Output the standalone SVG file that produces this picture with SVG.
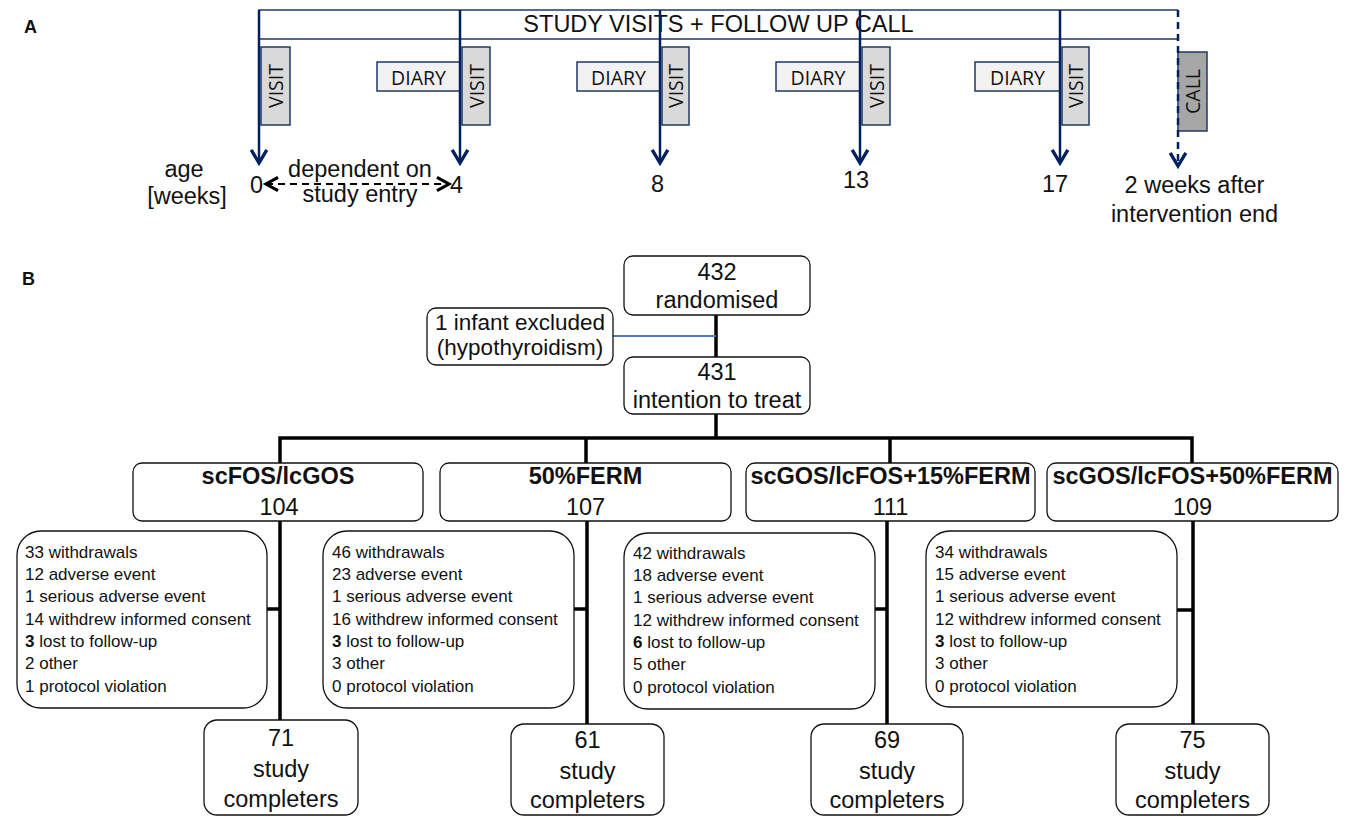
<svg xmlns="http://www.w3.org/2000/svg" width="1346" height="817" viewBox="0 0 1346 817">
<style>
.lbl{font-family:"Liberation Sans",Arial,sans-serif;fill:#111}
.pl{font-size:18px;font-weight:bold}
.t23{font-size:23.5px}
.t22{font-size:22.5px}
.b23{font-size:23.5px;font-weight:bold}
.t17{font-size:17px}
.mid{text-anchor:middle}
.cal{font-family:"Open Sans","Liberation Sans",sans-serif;font-size:19.5px;fill:#111;text-anchor:middle}
.visit{fill:#d9d9d9;stroke:#1f3864;stroke-width:1.5}
.diary{fill:#f2f2f2;stroke:#1f3864;stroke-width:1.5}
.call{fill:#a6a6a6;stroke:#1f3864;stroke-width:1.5}
.hdr{fill:none;stroke:#1f3864;stroke-width:1.5}
.box{fill:#fff;stroke:#111;stroke-width:1.3}
.tl{stroke:#002060;stroke-width:2.5;fill:none}
.tld{stroke:#002060;stroke-width:2.5;fill:none;stroke-dasharray:7 5}
.age{stroke:#000;stroke-width:2;fill:none;stroke-dasharray:7 5}
.fl{stroke:#000;stroke-width:3.5;fill:none}
.ex{stroke:#4a7ebb;stroke-width:2;fill:none}
</style>
<defs>
<marker id="chev" markerUnits="userSpaceOnUse" markerWidth="24" markerHeight="24" viewBox="-14 -10 20 20" refX="0" refY="0" orient="auto">
<path d="M-11,-6.5 L0,0 L-11,6.5" fill="none" stroke="#002060" stroke-width="2.8"/>
</marker>
<marker id="chevk" markerUnits="userSpaceOnUse" markerWidth="24" markerHeight="24" viewBox="-14 -10 20 20" refX="0" refY="0" orient="auto-start-reverse">
<path d="M-10,-5.5 L0,0 L-10,5.5" fill="none" stroke="#000" stroke-width="2.6"/>
</marker>
</defs>

<!-- Panel labels -->
<text class="lbl pl" x="24" y="33">A</text>
<text class="lbl pl" x="22" y="285">B</text>

<!-- Panel A -->
<g id="header">
<path class="hdr" d="M1178,10 H259 V39 H1178"/>
<text class="lbl t23 mid" x="718.5" y="32">STUDY VISITS + FOLLOW UP CALL</text>
</g>
<g id="diary1"><rect class="diary" x="377" y="62" width="83" height="29"/><text class="cal" x="418.5" y="84.5">DIARY</text></g>
<g id="diary2"><rect class="diary" x="577" y="62" width="83" height="29"/><text class="cal" x="618.5" y="84.5">DIARY</text></g>
<g id="diary3"><rect class="diary" x="776" y="62" width="84" height="29"/><text class="cal" x="818" y="84.5">DIARY</text></g>
<g id="diary4"><rect class="diary" x="975" y="62" width="85" height="29"/><text class="cal" x="1017.5" y="84.5">DIARY</text></g>
<g id="visit0"><rect class="visit" x="261" y="47" width="29" height="78"/><text class="cal" transform="translate(276,86) rotate(-90)" x="0" y="7">VISIT</text></g>
<g id="visit4"><rect class="visit" x="462" y="47" width="28" height="78"/><text class="cal" transform="translate(476.5,86) rotate(-90)" x="0" y="7">VISIT</text></g>
<g id="visit8"><rect class="visit" x="662" y="47" width="27" height="78"/><text class="cal" transform="translate(676,86) rotate(-90)" x="0" y="7">VISIT</text></g>
<g id="visit13"><rect class="visit" x="862" y="47" width="28" height="78"/><text class="cal" transform="translate(876.5,86) rotate(-90)" x="0" y="7">VISIT</text></g>
<g id="visit17"><rect class="visit" x="1062" y="47" width="27" height="78"/><text class="cal" transform="translate(1076,86) rotate(-90)" x="0" y="7">VISIT</text></g>
<g id="call"><rect class="call" x="1178" y="52" width="29" height="79"/><text class="cal" transform="translate(1193,91.5) rotate(-90)" x="0" y="7">CALL</text></g>

<g id="timeline-connectors">
<path class="tl" d="M259,10 V163" marker-end="url(#chev)"/>
<path class="tl" d="M460,10 V163" marker-end="url(#chev)"/>
<path class="tl" d="M660,10 V163" marker-end="url(#chev)"/>
<path class="tl" d="M860,10 V163" marker-end="url(#chev)"/>
<path class="tl" d="M1060,10 V163" marker-end="url(#chev)"/>
<path class="tld" d="M1178,10 V166" marker-end="url(#chev)"/>
<path class="age" d="M266,184 H449" marker-start="url(#chevk)" marker-end="url(#chevk)"/>
</g>

<g id="timeline-labels">
<text class="lbl t23 mid" x="184" y="177">age</text>
<text class="lbl t23 mid" x="187" y="204">[weeks]</text>
<text class="lbl t23 mid" x="256.5" y="193">0</text>
<text class="lbl t23 mid" x="456.5" y="193">4</text>
<text class="lbl t23 mid" x="360" y="177">dependent on</text>
<text class="lbl t23 mid" x="360" y="202">study entry</text>
<text class="lbl t23 mid" x="657.5" y="192">8</text>
<text class="lbl t23 mid" x="856" y="188">13</text>
<text class="lbl t23 mid" x="1055" y="192">17</text>
<text class="lbl t23 mid" x="1194.5" y="193">2 weeks after</text>
<text class="lbl t23 mid" x="1194.5" y="222">intervention end</text>
</g>

<!-- Panel B connectors -->
<g id="flow-connectors">
<path class="fl" d="M716,315 V357"/>
<path class="ex" d="M613,336 H716"/>
<path class="fl" d="M716,414 V438"/>
<path class="fl" d="M280,463 V438 H1192 V463"/>
<path class="fl" d="M586,438 V463"/>
<path class="fl" d="M890,438 V463"/>
<path class="fl" d="M280,521 V720"/>
<path class="fl" d="M587,521 V724"/>
<path class="fl" d="M887,521 V724"/>
<path class="fl" d="M1193,521 V724"/>
<path class="fl" d="M267,609 H280"/>
<path class="fl" d="M574,609 H587"/>
<path class="fl" d="M875,609 H887"/>
<path class="fl" d="M1177,610 H1193"/>
</g>

<g id="randomised"><rect class="box" x="624" y="256" width="186" height="59" rx="9"/>
<text class="lbl t23 mid" x="717" y="280">432</text><text class="lbl t23 mid" x="717" y="308">randomised</text></g>
<g id="excluded"><rect class="box" x="427" y="308" width="186" height="57" rx="9"/>
<text class="lbl t22 mid" x="520" y="330">1 infant excluded</text><text class="lbl t22 mid" x="520" y="355">(hypothyroidism)</text></g>
<g id="itt"><rect class="box" x="624" y="357" width="186" height="57" rx="9"/>
<text class="lbl t23 mid" x="717" y="380">431</text><text class="lbl t23 mid" x="717" y="408">intention to treat</text></g>

<g id="group1"><rect class="box" x="133" y="463" width="290" height="58" rx="9"/>
<text class="lbl b23 mid" x="278" y="484">scFOS/lcGOS</text><text class="lbl t23 mid" x="279" y="515">104</text></g>
<g id="group2"><rect class="box" x="440" y="463" width="291" height="58" rx="9"/>
<text class="lbl b23 mid" x="585.5" y="484">50%FERM</text><text class="lbl t23 mid" x="585.5" y="515">107</text></g>
<g id="group3"><rect class="box" x="746" y="463" width="289" height="58" rx="9"/>
<text class="lbl b23 mid" x="890.5" y="484">scGOS/lcFOS+15%FERM</text><text class="lbl t23 mid" x="890.5" y="515">111</text></g>
<g id="group4"><rect class="box" x="1047" y="463" width="291" height="58" rx="9"/>
<text class="lbl b23 mid" x="1192.5" y="484">scGOS/lcFOS+50%FERM</text><text class="lbl t23 mid" x="1192.5" y="515">109</text></g>

<g id="withdraw1"><rect class="box" x="17" y="531" width="250" height="177" rx="24"/>
<text class="lbl t17" x="25" y="557.7">33 withdrawals</text>
<text class="lbl t17" x="25" y="580">12 adverse event</text>
<text class="lbl t17" x="25" y="602.3">1 serious adverse event</text>
<text class="lbl t17" x="25" y="624.6">14 withdrew informed consent</text>
<text class="lbl t17" x="25" y="646.9"><tspan font-weight="bold">3</tspan> lost to follow-up</text>
<text class="lbl t17" x="25" y="669.2">2 other</text>
<text class="lbl t17" x="25" y="691.5">1 protocol violation</text></g>
<g id="withdraw2"><rect class="box" x="323" y="531" width="251" height="177" rx="24"/>
<text class="lbl t17" x="332" y="557.7">46 withdrawals</text>
<text class="lbl t17" x="332" y="580">23 adverse event</text>
<text class="lbl t17" x="332" y="602.3">1 serious adverse event</text>
<text class="lbl t17" x="332" y="624.6">16 withdrew informed consent</text>
<text class="lbl t17" x="332" y="646.9"><tspan font-weight="bold">3</tspan> lost to follow-up</text>
<text class="lbl t17" x="332" y="669.2">3 other</text>
<text class="lbl t17" x="332" y="691.5">0 protocol violation</text></g>
<g id="withdraw3"><rect class="box" x="624" y="533" width="251" height="176" rx="24"/>
<text class="lbl t17" x="633" y="558.7">42 withdrawals</text>
<text class="lbl t17" x="633" y="581">18 adverse event</text>
<text class="lbl t17" x="633" y="603.3">1 serious adverse event</text>
<text class="lbl t17" x="633" y="625.6">12 withdrew informed consent</text>
<text class="lbl t17" x="633" y="647.9"><tspan font-weight="bold">6</tspan> lost to follow-up</text>
<text class="lbl t17" x="633" y="670.2">5 other</text>
<text class="lbl t17" x="633" y="692.5">0 protocol violation</text></g>
<g id="withdraw4"><rect class="box" x="926" y="531" width="251" height="176" rx="24"/>
<text class="lbl t17" x="935" y="557.7">34 withdrawals</text>
<text class="lbl t17" x="935" y="580">15 adverse event</text>
<text class="lbl t17" x="935" y="602.3">1 serious adverse event</text>
<text class="lbl t17" x="935" y="624.6">12 withdrew informed consent</text>
<text class="lbl t17" x="935" y="646.9"><tspan font-weight="bold">3</tspan> lost to follow-up</text>
<text class="lbl t17" x="935" y="669.2">3 other</text>
<text class="lbl t17" x="935" y="691.5">0 protocol violation</text></g>

<g id="complete1"><rect class="box" x="204" y="720" width="154" height="95" rx="13"/>
<text class="lbl t23 mid" x="281" y="746">71</text><text class="lbl t23 mid" x="281" y="777">study</text><text class="lbl t23 mid" x="281" y="807">completers</text></g>
<g id="complete2"><rect class="box" x="511" y="724" width="153" height="91" rx="13"/>
<text class="lbl t23 mid" x="587.5" y="748">61</text><text class="lbl t23 mid" x="587.5" y="779">study</text><text class="lbl t23 mid" x="587.5" y="808">completers</text></g>
<g id="complete3"><rect class="box" x="811" y="724" width="152" height="91" rx="13"/>
<text class="lbl t23 mid" x="887" y="748">69</text><text class="lbl t23 mid" x="887" y="779">study</text><text class="lbl t23 mid" x="887" y="808">completers</text></g>
<g id="complete4"><rect class="box" x="1116" y="724" width="153" height="91" rx="13"/>
<text class="lbl t23 mid" x="1192.5" y="748">75</text><text class="lbl t23 mid" x="1192.5" y="779">study</text><text class="lbl t23 mid" x="1192.5" y="808">completers</text></g>
</svg>
